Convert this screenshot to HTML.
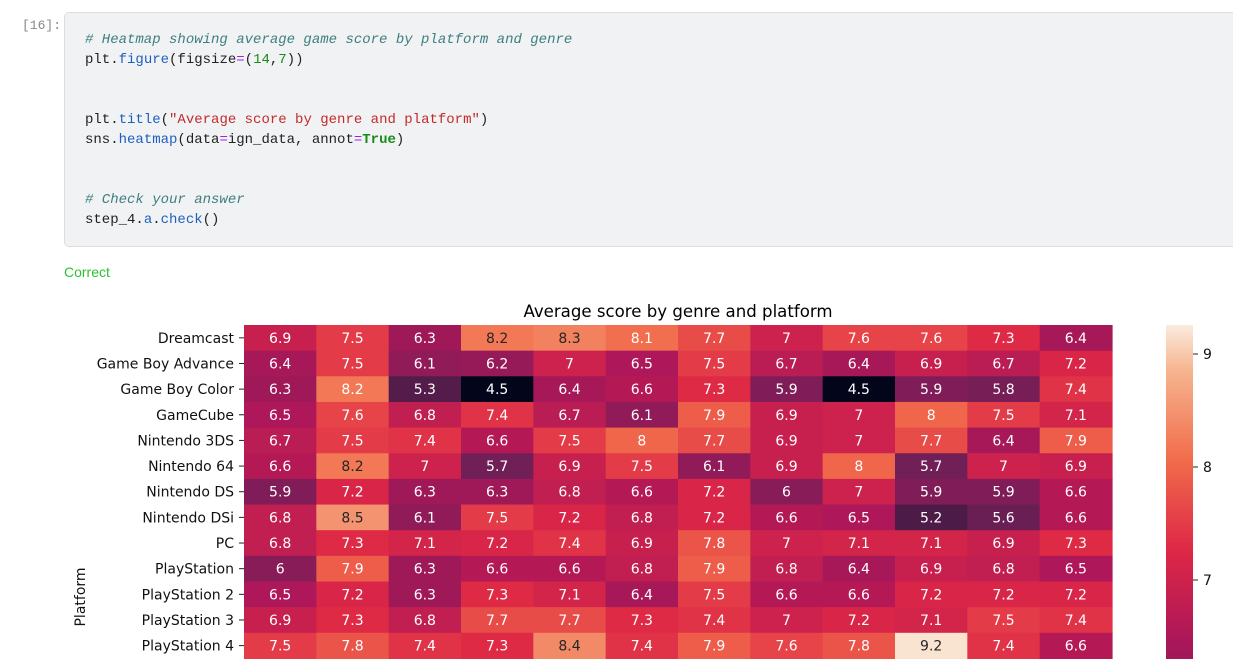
<!DOCTYPE html>
<html><head><meta charset="utf-8"><style>
body{margin:0;width:1233px;height:659px;overflow:hidden;background:#fff;font-family:"DejaVu Sans",sans-serif;position:relative}
.num{position:absolute;left:22px;top:18px;font:13px "Liberation Mono",monospace;color:#888}
.cell{position:absolute;left:64px;top:12px;width:1190px;height:233px;background:#f1f2f4;border:1px solid #dcdde0;border-radius:5px}
.code{position:absolute;left:85px;top:30px;font:14px/20px "Liberation Mono",monospace;color:#222;white-space:pre;margin:0}
.c{color:#3f7f7f;font-style:italic}.f{color:#1f5fbf}.s{color:#c42a2a}.n{color:#1a8a1a}.o{color:#a020f0}.k{color:#1a8a1a;font-weight:bold}
.ok{position:absolute;left:64px;top:264px;font:14px "Liberation Sans",sans-serif;color:#2ec12e}
svg{position:absolute;left:0;top:0}
</style></head><body>
<div class="num">[16]:</div>
<div class="cell"></div>
<pre class="code"><span class="c"># Heatmap showing average game score by platform and genre</span>
plt.<span class="f">figure</span>(figsize<span class="o">=</span>(<span class="n">14</span>,<span class="n">7</span>))


plt.<span class="f">title</span>(<span class="s">"Average score by genre and platform"</span>)
sns.<span class="f">heatmap</span>(data<span class="o">=</span>ign_data, annot<span class="o">=</span><span class="k">True</span>)


<span class="c"># Check your answer</span>
step_4.<span class="f">a</span>.<span class="f">check</span>()</pre>
<div class="ok">Correct</div>
<svg id="s" width="1233" height="659" xmlns="http://www.w3.org/2000/svg"></svg>
<script>
var stops=[[0,[3,5,26]],[0.0833,[53,25,62]],[0.25,[112,31,87]],[0.4167,[173,23,89]],[0.5833,[222,40,70]],[0.75,[241,108,75]],[0.9167,[246,180,143]],[1,[250,235,221]]];
function cm(t){t=Math.max(0,Math.min(1,t));for(var i=1;i<stops.length;i++){if(t<=stops[i][0]){var a=stops[i-1],b=stops[i],u=(t-a[0])/(b[0]-a[0]);return a[1].map((v,k)=>Math.round(v+(b[1][k]-v)*u));}}return stops[stops.length-1][1];}
var vmin=4.5,vmax=9.26;
var rows=["Dreamcast","Game Boy Advance","Game Boy Color","GameCube","Nintendo 3DS","Nintendo 64","Nintendo DS","Nintendo DSi","PC","PlayStation","PlayStation 2","PlayStation 3","PlayStation 4"];
var d=[
[6.9,7.5,6.3,8.2,8.3,8.1,7.7,7,7.6,7.6,7.3,6.4],
[6.4,7.5,6.1,6.2,7,6.5,7.5,6.7,6.4,6.9,6.7,7.2],
[6.3,8.2,5.3,4.5,6.4,6.6,7.3,5.9,4.5,5.9,5.8,7.4],
[6.5,7.6,6.8,7.4,6.7,6.1,7.9,6.9,7,8,7.5,7.1],
[6.7,7.5,7.4,6.6,7.5,8,7.7,6.9,7,7.7,6.4,7.9],
[6.6,8.2,7,5.7,6.9,7.5,6.1,6.9,8,5.7,7,6.9],
[5.9,7.2,6.3,6.3,6.8,6.6,7.2,6,7,5.9,5.9,6.6],
[6.8,8.5,6.1,7.5,7.2,6.8,7.2,6.6,6.5,5.2,5.6,6.6],
[6.8,7.3,7.1,7.2,7.4,6.9,7.8,7,7.1,7.1,6.9,7.3],
[6,7.9,6.3,6.6,6.6,6.8,7.9,6.8,6.4,6.9,6.8,6.5],
[6.5,7.2,6.3,7.3,7.1,6.4,7.5,6.6,6.6,7.2,7.2,7.2],
[6.9,7.3,6.8,7.7,7.7,7.3,7.4,7,7.2,7.1,7.5,7.4],
[7.5,7.8,7.4,7.3,8.4,7.4,7.9,7.6,7.8,9.2,7.4,6.6]];
var x0=244,y0=325,cw=(1112-244)/12,ch=25.65,h='';
h+='<text x="678" y="317" font-size="16.6" text-anchor="middle" font-family="DejaVu Sans" fill="#000">Average score by genre and platform</text>';
for(var r=0;r<rows.length;r++){
 var yc=y0+(r+0.5)*ch;
 h+='<line x1="239" x2="244" y1="'+yc+'" y2="'+yc+'" stroke="#222" stroke-width="1"/>';
 h+='<text x="234" y="'+(yc+5)+'" font-size="14" text-anchor="end" font-family="DejaVu Sans" fill="#111">'+rows[r]+'</text>';
 for(var c=0;c<12;c++){
  var v=d[r][c],col=cm((v-vmin)/(vmax-vmin));
  h+='<rect x="'+(x0+c*cw)+'" y="'+(y0+r*ch)+'" width="'+(cw+0.6)+'" height="'+(ch+0.6)+'" fill="rgb('+col+')"/>';
  var blk=v>=8.2&&!(r==2&&c==1);
  h+='<text x="'+(x0+(c+0.5)*cw)+'" y="'+(yc+5)+'" font-size="14" text-anchor="middle" font-family="DejaVu Sans" fill="'+(blk?'#262626':'#fff')+'">'+v+'</text>';
 }
}
h+='<text transform="translate(85,597) rotate(-90)" font-size="14" text-anchor="middle" font-family="DejaVu Sans" fill="#111">Platform</text>';
var cy0=325,cy1=862;
for(var y=cy0;y<659;y++){var val=vmax-(y-cy0)/(cy1-cy0)*(vmax-vmin);h+='<rect x="1166" y="'+y+'" width="27" height="1.2" fill="rgb('+cm((val-vmin)/(vmax-vmin))+')"/>';}
[[9,354],[8,467],[7,580]].forEach(function(t){h+='<line x1="1193" x2="1198" y1="'+t[1]+'" y2="'+t[1]+'" stroke="#222"/><text x="1203" y="'+(t[1]+5)+'" font-size="14" font-family="DejaVu Sans" fill="#111">'+t[0]+'</text>';});
document.getElementById('s').innerHTML=h;
</script>
</body></html>
